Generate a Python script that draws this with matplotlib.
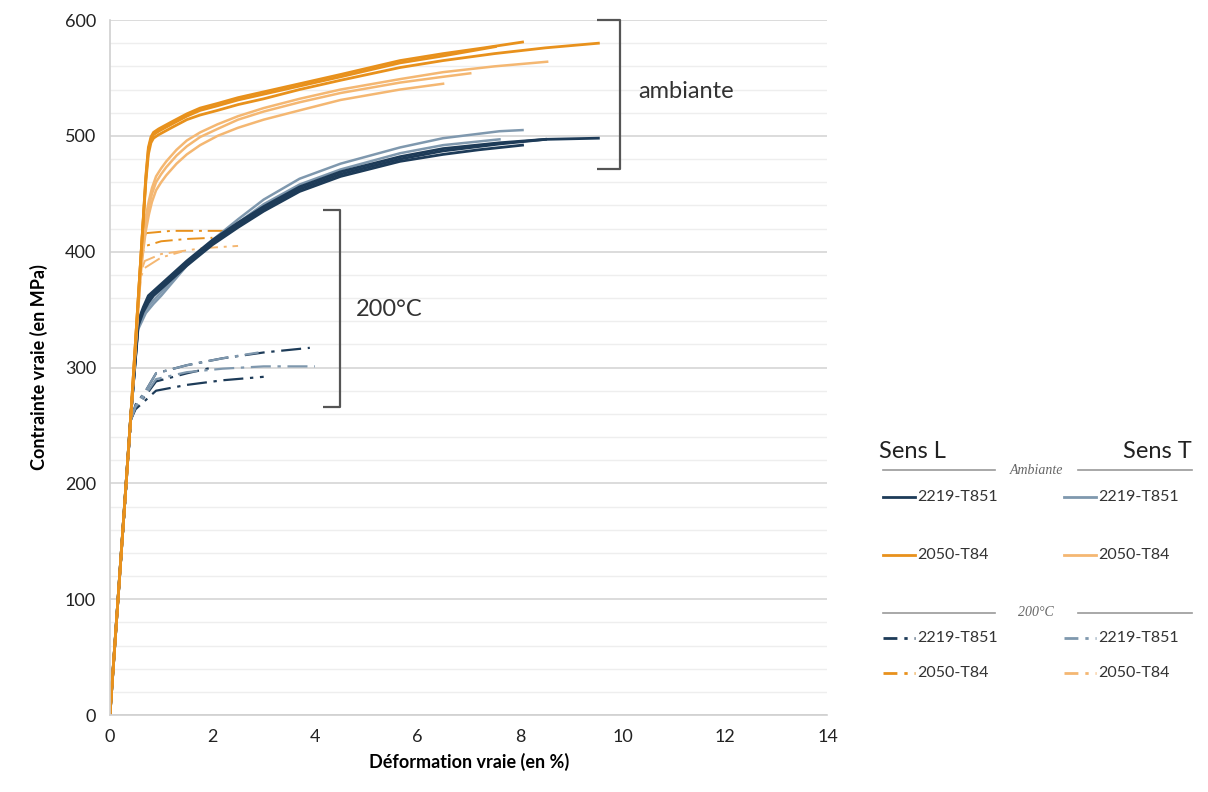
import matplotlib
matplotlib.use('Agg')
import matplotlib.pyplot as plt
from matplotlib.lines import Line2D

plt.rcParams.update({
    "font.family": ["Lato", "DejaVu Sans"],
    "font.size": 13,
})

# colours
C_BL = '#1d3b58'   # 2219-T851 sens L
C_BT = '#7f98ae'   # 2219-T851 sens T
C_OL = '#e8911c'   # 2050-T84 sens L
C_OT = '#f4b772'   # 2050-T84 sens T
DASHDOT = (0, (9, 3, 1.5, 3))
DASHDOT_LEG = (0, (5, 2.5, 1.2, 2.5))

# ---- ambiante, 2050-T84, sens L
o_amb_L1_x = [0, 0.41, 0.64, 0.7, 0.75, 0.8, 0.85, 0.95, 1.2, 1.5, 1.76, 2.1, 2.5, 3.0, 3.7, 4.5, 5.66, 6.5, 7.3, 8.05]
o_amb_L1_y = [0, 260, 421, 465, 490, 499, 503, 506, 512, 519, 524, 528, 533, 538, 545, 553, 565, 571, 576, 581]
o_amb_L2_x = [0, 0.41, 0.64, 0.7, 0.75, 0.8, 0.85, 0.95, 1.2, 1.5, 1.76, 2.1, 2.5, 3.0, 3.7, 4.5, 5.66, 6.5, 7.52]
o_amb_L2_y = [0, 260, 421, 463, 488, 497, 501, 504, 510, 517, 522, 526, 531, 536, 543, 551, 563, 569, 577]
o_amb_L3_x = [0, 0.41, 0.64, 0.7, 0.75, 0.8, 0.85, 0.95, 1.2, 1.5, 1.76, 2.1, 2.5, 3.0, 3.7, 4.5, 5.66, 6.5, 7.5, 8.5, 9.53]
o_amb_L3_y = [0, 260, 420, 460, 484, 494, 498, 501, 507, 514, 518, 522, 527, 532, 540, 548, 559, 565, 571, 576, 580]
# ---- ambiante, 2050-T84, sens T
o_amb_T1_x = [0, 0.41, 0.6, 0.65, 0.7, 0.76, 0.82, 0.9, 1.0, 1.1, 1.3, 1.5, 1.76, 2.1, 2.5, 3.0, 3.7, 4.5, 5.66, 6.5, 7.5, 8.53]
o_amb_T1_y = [0, 258, 390, 412, 430, 444, 455, 465, 472, 478, 488, 496, 503, 510, 517, 524, 532, 540, 549, 555, 560, 564]
o_amb_T2_x = [0, 0.41, 0.6, 0.65, 0.7, 0.76, 0.82, 0.9, 1.0, 1.1, 1.3, 1.5, 1.76, 2.1, 2.5, 3.0, 3.7, 4.5, 5.66, 6.5, 7.03]
o_amb_T2_y = [0, 258, 385, 407, 425, 439, 450, 460, 467, 473, 483, 491, 499, 506, 514, 521, 529, 537, 546, 551, 554]
o_amb_T3_x = [0, 0.41, 0.6, 0.65, 0.7, 0.76, 0.82, 0.9, 1.0, 1.1, 1.3, 1.5, 1.76, 2.1, 2.5, 3.0, 3.7, 4.5, 5.66, 6.5]
o_amb_T3_y = [0, 258, 380, 401, 418, 432, 443, 453, 460, 466, 476, 484, 492, 500, 507, 514, 522, 531, 540, 545]

# ---- ambiante, 2219-T851, sens L
b_amb_L1_x = [0, 0.41, 0.55, 0.65, 0.75, 0.85, 1.0, 1.25, 1.5, 1.75, 2.0, 2.5, 3.0, 3.7, 4.5, 5.66, 6.5, 7.6, 8.5, 9.53]
b_amb_L1_y = [0, 260, 340, 352, 362, 366, 372, 382, 392, 401, 410, 425, 439, 456, 469, 482, 489, 494, 497, 498]
b_amb_L2_x = [0, 0.41, 0.55, 0.65, 0.75, 0.85, 1.0, 1.25, 1.5, 1.75, 2.0, 2.5, 3.0, 3.7, 4.5, 5.66, 6.5, 7.6, 8.5]
b_amb_L2_y = [0, 260, 338, 350, 359, 364, 370, 380, 390, 399, 408, 423, 437, 454, 467, 480, 487, 493, 497]
b_amb_L3_x = [0, 0.41, 0.55, 0.65, 0.75, 0.85, 1.0, 1.25, 1.5, 1.75, 2.0, 2.5, 3.0, 3.7, 4.5, 5.66, 6.5, 7.2, 8.05]
b_amb_L3_y = [0, 260, 336, 348, 356, 362, 368, 378, 388, 397, 406, 421, 435, 452, 465, 478, 484, 488, 492]
# ---- ambiante, 2219-T851, sens T
b_amb_T1_x = [0, 0.41, 0.55, 0.7, 0.85, 1.0, 1.25, 1.5, 1.75, 2.0, 2.5, 3.0, 3.7, 4.5, 5.66, 6.5, 7.6, 8.05]
b_amb_T1_y = [0, 260, 335, 350, 358, 365, 377, 390, 400, 410, 428, 445, 463, 476, 490, 498, 504, 505]
b_amb_T2_x = [0, 0.41, 0.55, 0.7, 0.85, 1.0, 1.25, 1.5, 1.75, 2.0, 2.5, 3.0, 3.7, 4.5, 5.66, 6.5, 7.6]
b_amb_T2_y = [0, 260, 333, 347, 355, 362, 375, 388, 398, 407, 425, 441, 458, 471, 485, 492, 497]

# ---- 200°C, 2050-T84
o_200_L1_x = [0, 0.41, 0.62, 0.7, 1.2, 2.3]
o_200_L1_y = [0, 260, 400, 416, 418, 418]
o_200_L2_x = [0, 0.41, 0.62, 0.7, 1.0, 1.5, 2.0]
o_200_L2_y = [0, 260, 398, 405, 409, 411, 412]
o_200_T1_x = [0, 0.41, 0.6, 0.68, 1.0, 1.8, 2.5]
o_200_T1_y = [0, 258, 382, 392, 398, 403, 405]
o_200_T2_x = [0, 0.41, 0.6, 0.68, 1.0, 1.4]
o_200_T2_y = [0, 258, 378, 386, 395, 400]

# ---- 200°C, 2219-T851
b_200_L1_x = [0, 0.41, 0.5, 0.7, 0.9, 1.5, 2.2, 3.0, 3.9]
b_200_L1_y = [0, 255, 268, 280, 295, 302, 308, 313, 317]
b_200_L2_x = [0, 0.41, 0.5, 0.7, 0.9, 1.5, 2.2, 3.0]
b_200_L2_y = [0, 255, 264, 272, 280, 285, 289, 292]
b_200_L3_x = [0, 0.41, 0.5, 0.7, 0.9, 1.5, 2.0]
b_200_L3_y = [0, 255, 266, 276, 288, 295, 300]
b_200_T1_x = [0, 0.41, 0.5, 0.7, 0.9, 1.5, 2.2, 3.0, 4.0]
b_200_T1_y = [0, 255, 266, 277, 290, 296, 299, 301, 301]
b_200_T2_x = [0, 0.41, 0.5, 0.7, 0.9, 1.5, 2.2, 2.9]
b_200_T2_y = [0, 255, 267, 280, 295, 302, 308, 313]

x_ticks = [0, 2, 4, 6, 8, 10, 12, 14]
y_ticks = [0, 100, 200, 300, 400, 500, 600]


def main():
    fig = plt.figure(figsize=(12.08, 7.92), dpi=100)
    ax = fig.add_axes([0.091, 0.0972, 0.594, 0.8775])

    # 200°C (dash-dot) first, ambient on top
    for xs, ys, c in [(b_200_L1_x, b_200_L1_y, C_BL), (b_200_L2_x, b_200_L2_y, C_BL),
                      (b_200_L3_x, b_200_L3_y, C_BL), (b_200_T1_x, b_200_T1_y, C_BT),
                      (b_200_T2_x, b_200_T2_y, C_BT)]:
        ax.plot(xs, ys, color=c, lw=1.6, ls=DASHDOT)
    for xs, ys, c in [(o_200_L1_x, o_200_L1_y, C_OL), (o_200_L2_x, o_200_L2_y, C_OL),
                      (o_200_T1_x, o_200_T1_y, C_OT), (o_200_T2_x, o_200_T2_y, C_OT)]:
        ax.plot(xs, ys, color=c, lw=1.4, ls=DASHDOT)

    for xs, ys in [(b_amb_T1_x, b_amb_T1_y), (b_amb_T2_x, b_amb_T2_y)]:
        ax.plot(xs, ys, color=C_BT, lw=1.8)
    for xs, ys in [(b_amb_L1_x, b_amb_L1_y), (b_amb_L2_x, b_amb_L2_y), (b_amb_L3_x, b_amb_L3_y)]:
        ax.plot(xs, ys, color=C_BL, lw=2.0)
    for xs, ys in [(o_amb_T1_x, o_amb_T1_y), (o_amb_T2_x, o_amb_T2_y), (o_amb_T3_x, o_amb_T3_y)]:
        ax.plot(xs, ys, color=C_OT, lw=1.8)
    for xs, ys in [(o_amb_L1_x, o_amb_L1_y), (o_amb_L2_x, o_amb_L2_y), (o_amb_L3_x, o_amb_L3_y)]:
        ax.plot(xs, ys, color=C_OL, lw=2.0)

    ax.set_xlim(0, 14)
    ax.set_ylim(0, 600)
    ax.set_xticks(x_ticks)
    ax.set_yticks(y_ticks)
    ax.set_yticks(range(0, 601, 20), minor=True)
    ax.grid(True, which='major', axis='y', color='#d6d6d6', lw=1.2)
    ax.grid(True, which='minor', axis='y', color='#eeeeee', lw=1.0)
    ax.set_axisbelow(True)
    ax.tick_params(which='both', length=0, labelsize=13, colors='#222222', pad=10)
    for s in ['top', 'right']:
        ax.spines[s].set_visible(False)
    for s in ['left', 'bottom']:
        ax.spines[s].set_color('#d0d0d0')
        ax.spines[s].set_linewidth(1.2)

    ax.set_xlabel('Déformation vraie (en %)', fontsize=13, fontweight='bold', labelpad=6)
    ax.set_ylabel('Contrainte vraie (en MPa)', fontsize=13, fontweight='bold', labelpad=12)

    # brackets
    br = dict(color='#555555', lw=1.6, clip_on=False, solid_capstyle='butt')
    ax.plot([9.51, 9.96, 9.96, 9.51], [600, 600, 471, 471], **br)
    ax.text(10.3, 538, 'ambiante', fontsize=17, color='#333333', va='center')
    ax.plot([4.16, 4.49, 4.49, 4.16], [436, 436, 266, 266], **br)
    ax.text(4.79, 350, '200°C', fontsize=17, color='#333333', va='center')

    # custom legend (figure coordinates)
    W, H = 1208.0, 792.0

    def fx(px):
        return px / W

    def fy(py):
        return 1 - py / H

    fig.text(fx(912), fy(452), 'Sens L', fontsize=17, ha='center', va='center', color='#222222')
    fig.text(fx(1157), fy(452), 'Sens T', fontsize=17, ha='center', va='center', color='#222222')
    for yline, label in [(470, 'Ambiante'), (613, '200°C')]:
        fig.add_artist(Line2D([fx(883), fx(995)], [fy(yline), fy(yline)], color='#999999', lw=1.2))
        fig.add_artist(Line2D([fx(1078), fx(1192)], [fy(yline), fy(yline)], color='#999999', lw=1.2))
        fig.text(fx(1036), fy(yline), label, fontsize=10, style='italic', ha='center', va='center',
                 color='#666666', family=['Liberation Serif', 'DejaVu Serif'])

    rows = [
        (497, C_BL, C_BT, '2219-T851', '-'),
        (555, C_OL, C_OT, '2050-T84', '-'),
        (638, C_BL, C_BT, '2219-T851', DASHDOT_LEG),
        (673, C_OL, C_OT, '2050-T84', DASHDOT_LEG),
    ]
    for yrow, cl, ct, label, ls in rows:
        fig.add_artist(Line2D([fx(883), fx(915)], [fy(yrow), fy(yrow)], color=cl, lw=2, ls=ls))
        fig.text(fx(917), fy(yrow), label, fontsize=11.5, va='center', color='#333333')
        fig.add_artist(Line2D([fx(1064), fx(1096)], [fy(yrow), fy(yrow)], color=ct, lw=2, ls=ls))
        fig.text(fx(1098), fy(yrow), label, fontsize=11.5, va='center', color='#333333')

    fig.savefig('out.png', dpi=100)
    plt.close(fig)


if __name__ == '__main__':
    main()
